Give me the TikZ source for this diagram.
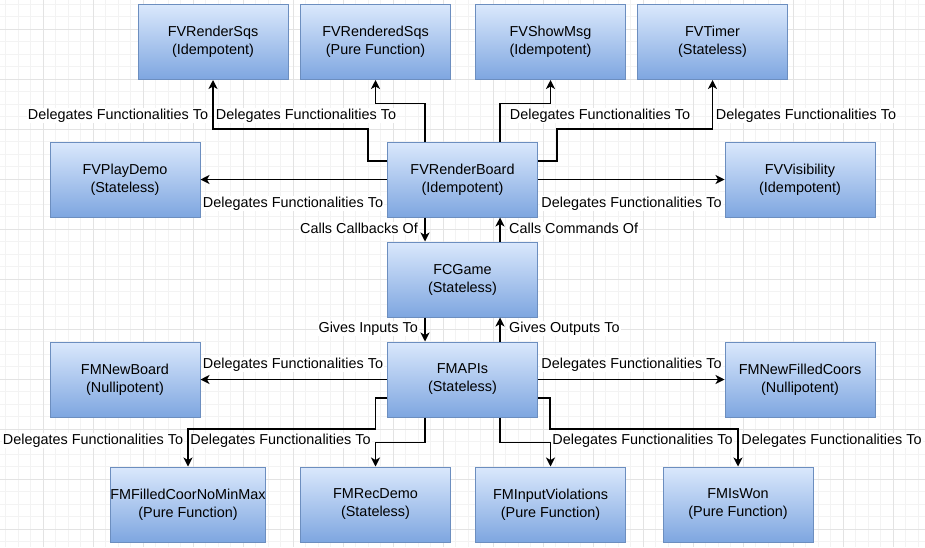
\documentclass[tikz,border=0pt]{standalone}
\usepackage{fontspec}
\setmainfont{Liberation Sans}
\usetikzlibrary{arrows.meta,calc}
\definecolor{boxtop}{HTML}{DAE8FC}
\definecolor{boxbot}{HTML}{7EA6E0}
\definecolor{boxline}{HTML}{6C8EBF}
\definecolor{gminor}{HTML}{F3F3F3}
\definecolor{gmajor}{HTML}{E3E3E3}
\tikzset{
  fnbox/.style={draw=boxline, line width=1pt, top color=boxtop, bottom color=boxbot,
    minimum width=150pt, minimum height=75pt, inner sep=0pt, align=center,
    font=\fontsize{14.4}{18}\selectfont},
  conn/.style={line width=1.3pt, -{Stealth[length=9pt,width=9pt,inset=2.5pt]}},
  lbl/.style={fill=white, inner sep=1pt, font=\fontsize{14.4}{17}\selectfont},
}
\begin{document}
\begin{tikzpicture}[x=1pt,y=-1pt]
\useasboundingbox (0,0) rectangle (925,547);
\fill[white] (0,0) rectangle (925,547);
% grid
\foreach \i in {0,...,74} \draw[gminor, line width=0.8pt] (5.5+12.5*\i,0) -- (5.5+12.5*\i,547);
\foreach \i in {0,...,43} \draw[gminor, line width=0.8pt] (0,4+12.5*\i) -- (925,4+12.5*\i);
\foreach \i in {0,...,18} \draw[gmajor, line width=0.8pt] (43+50*\i,0) -- (43+50*\i,547);
\foreach \i in {0,...,10} \draw[gmajor, line width=0.8pt] (0,29+50*\i) -- (925,29+50*\i);

% nodes
\node[fnbox] (rsq) at (213,42) {FVRenderSqs\\(Idempotent)};
\node[fnbox] (rdsq) at (375.5,42) {FVRenderedSqs\\(Pure Function)};
\node[fnbox] (msg) at (550.5,42) {FVShowMsg\\(Idempotent)};
\node[fnbox] (tmr) at (712.5,42) {FVTimer\\(Stateless)};
\node[fnbox] (play) at (125,179.5) {FVPlayDemo\\(Stateless)};
\node[fnbox] (board) at (462.5,179.5) {FVRenderBoard\\(Idempotent)};
\node[fnbox] (vis) at (800,179.5) {FVVisibility\\(Idempotent)};
\node[fnbox] (game) at (462.5,279.5) {FCGame\\(Stateless)};
\node[fnbox] (newb) at (125,379.5) {FMNewBoard\\(Nullipotent)};
\node[fnbox] (apis) at (462.5,379.5) {FMAPIs\\(Stateless)};
\node[fnbox] (newf) at (800,379.5) {FMNewFilledCoors\\(Nullipotent)};
\node[fnbox] (fill) at (188,504.5) {FMFilledCoorNoMinMax\\(Pure Function)};
\node[fnbox] (rec) at (375.5,504.5) {FMRecDemo\\(Stateless)};
\node[fnbox] (inv) at (550.5,504.5) {FMInputViolations\\(Pure Function)};
\node[fnbox] (won) at (738,504.5) {FMIsWon\\(Pure Function)};

% connectors
\draw[conn] ([yshift=18.5pt]board.west) -- ++(-19,0) -- ++(0,-32) -| (rsq.south);
\draw[conn] ([xshift=-37.5pt]board.north) -- ++(0,-38) -| (rdsq.south);
\draw[conn] ([xshift=37.5pt]board.north) -- ++(0,-38) -| (msg.south);
\draw[conn] ([yshift=18.5pt]board.east) -- ++(19,0) -- ++(0,-32) -| (tmr.south);
\draw[conn] (board.west) -- (play.east);
\draw[conn] (board.east) -- (vis.west);
\draw[conn] ([xshift=-37.5pt]board.south) -- ([xshift=-37.5pt]game.north);
\draw[conn] ([xshift=37.5pt]game.north) -- ([xshift=37.5pt]board.south);
\draw[conn] ([xshift=-37.5pt]game.south) -- ([xshift=-37.5pt]apis.north);
\draw[conn] ([xshift=37.5pt]apis.north) -- ([xshift=37.5pt]game.south);
\draw[conn] (apis.west) -- (newb.east);
\draw[conn] (apis.east) -- (newf.west);
\draw[conn] ([yshift=-18.5pt]apis.west) -- ++(-11.5,0) -- ++(0,31) -| (fill.north);
\draw[conn] ([xshift=-37.5pt]apis.south) -- ++(0,25) -| (rec.north);
\draw[conn] ([xshift=37.5pt]apis.south) -- ++(0,25) -| (inv.north);
\draw[conn] ([yshift=-18.5pt]apis.east) -- ++(12,0) -- ++(0,31) -| (won.north);

% labels
\node[lbl] (l1) at (118,115.5) {Delegates Functionalities To};
\node[lbl] (l2) at (306,115.5) {Delegates Functionalities To};
\node[lbl] (l3) at (600,115.5) {Delegates Functionalities To};
\node[lbl] (l4) at (806,115.5) {Delegates Functionalities To};
\node[lbl] (l5) at (293,203.5) {Delegates Functionalities To};
\node[lbl] (l6) at (631.5,203.5) {Delegates Functionalities To};
\node[lbl, anchor=east] (l7) at (419,228.5) {Calls Callbacks Of};
\node[lbl, anchor=west] (l8) at (508,228.5) {Calls Commands Of};
\node[lbl, anchor=east] (l9) at (419,328.5) {Gives Inputs To};
\node[lbl, anchor=west] (l10) at (508,328.5) {Gives Outputs To};
\node[lbl] (l11) at (293,364.5) {Delegates Functionalities To};
\node[lbl] (l12) at (631.5,364.5) {Delegates Functionalities To};
\node[lbl] (l13) at (93,440.5) {Delegates Functionalities To};
\node[lbl] (l14) at (280.5,440.5) {Delegates Functionalities To};
\node[lbl] (l15) at (642.5,440.5) {Delegates Functionalities To};
\node[lbl] (l16) at (831.5,440.5) {Delegates Functionalities To};
\end{tikzpicture}
\end{document}
